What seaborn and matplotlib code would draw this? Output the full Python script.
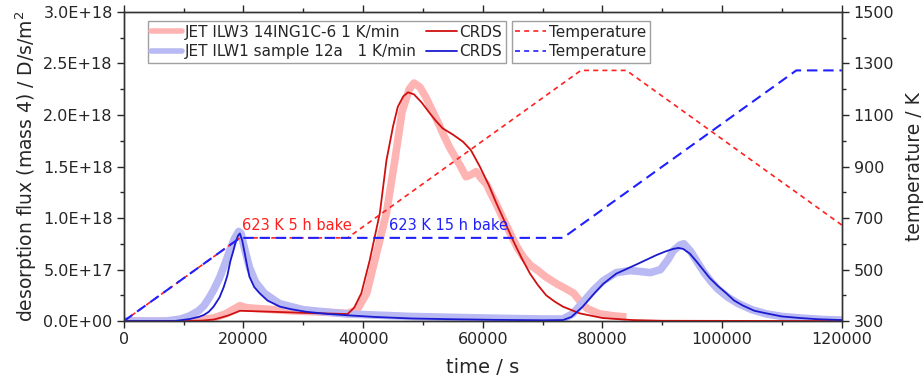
import numpy as np
import pandas as pd
import matplotlib
matplotlib.use("Agg")
import matplotlib.pyplot as plt
from matplotlib.ticker import MultipleLocator, FixedLocator, FuncFormatter
from matplotlib.lines import Line2D
import seaborn as sns

# ---------------- data ----------------
# JET ILW3 14ING1C-6, 1 K/min (measured, thick pink)
ilw3_t = [0, 8000, 12000, 15000, 17000, 18500, 19400, 20500, 24000, 28000, 32000, 36000, 37400,
          39000, 40600, 42000, 43900, 45300, 46500, 47700, 48500, 49500, 50500, 51500, 52500,
          53500, 54500, 55500, 56300, 57200, 58000, 58900, 59800, 60600, 61500, 62300, 63500,
          64600, 65700, 66800, 68000, 69000, 70500, 72400, 74000, 75200, 76700, 77500, 79500,
          82000, 84000]
ilw3_f = [0.0, 0.0, 0.01, 0.03, 0.07, 0.12, 0.15, 0.13, 0.115, 0.10, 0.09, 0.08, 0.075,
          0.11, 0.27, 0.60, 1.05, 1.56, 2.03, 2.25, 2.31, 2.27, 2.17, 2.05, 1.93,
          1.80, 1.68, 1.58, 1.50, 1.40, 1.42, 1.45, 1.38, 1.33, 1.22, 1.13, 0.98,
          0.85, 0.72, 0.62, 0.54, 0.50, 0.43, 0.36, 0.31, 0.27, 0.16, 0.12, 0.07,
          0.05, 0.04]

# JET ILW1 sample 12a, 1 K/min (measured, thick light blue)
ilw1_t = [0, 7000, 9500, 11000, 12500, 13400, 14200, 15000, 16000, 17000, 17800, 18500, 19200,
          19600, 20200, 21000, 22000, 23500, 26000, 30000, 37000, 48000, 60000, 70000, 73400,
          75000, 76700, 78500, 80100, 82300, 84600, 86500, 88000, 89700, 91000, 91800, 93000,
          93600, 94700, 96000, 97000, 98200, 99300, 101000, 102700, 105000, 107400, 110000,
          113000, 117000, 120000]
ilw1_f = [0.0, 0.0, 0.02, 0.05, 0.10, 0.15, 0.22, 0.30, 0.42, 0.57, 0.70, 0.80, 0.87,
          0.85, 0.70, 0.52, 0.38, 0.27, 0.17, 0.11, 0.07, 0.045, 0.03, 0.02, 0.02,
          0.07, 0.18, 0.30, 0.39, 0.47, 0.49, 0.48, 0.47, 0.50, 0.60, 0.68, 0.74,
          0.75, 0.68, 0.56, 0.47, 0.38, 0.31, 0.23, 0.17, 0.11, 0.07, 0.045,
          0.03, 0.015, 0.01]

# CRDS simulation for ILW3 (thin red)
crds3_t = [0, 10000, 13200, 15000, 16000, 17500, 18800, 19400, 20000, 25000, 30000, 35000, 37400,
           38500, 39700, 41100, 42800, 43900, 45000, 45800, 46700, 47500, 48500, 49800, 51100,
           52200, 53300, 55000, 56700, 58000, 59500, 61000, 62300, 63700, 65000, 66500, 67900,
           69200, 70600, 72000, 73400, 76200, 80000, 85000, 90000, 120000]
crds3_f = [0.0, 0.0, 0.005, 0.015, 0.03, 0.055, 0.085, 0.10, 0.099, 0.09, 0.08, 0.072, 0.068,
           0.13, 0.27, 0.59, 1.05, 1.56, 1.89, 2.08, 2.18, 2.22, 2.20, 2.12, 2.02,
           1.94, 1.87, 1.81, 1.74, 1.66, 1.50, 1.32, 1.14, 0.96, 0.79, 0.61, 0.46,
           0.35, 0.25, 0.19, 0.14, 0.075, 0.03, 0.01, 0.003, 0.0]

# CRDS simulation for ILW1 (thin blue)
crds1_t = [0, 8400, 11000, 12500, 13400, 14200, 15000, 16000, 16700, 17300, 17800, 18300, 18700,
           19100, 19400, 19800, 20200, 20600, 21000, 21800, 22700, 24000, 26100, 28000, 30500,
           34000, 37200, 42000, 48300, 55000, 62000, 70000, 73400, 74800, 76700, 78500, 80100,
           82300, 85700, 89000, 90500, 91800, 92700, 93500, 94600, 95700, 96800, 97900, 99300,
           100700, 102000, 103500, 105400, 107400, 110000, 113000, 116000, 120000]
crds1_f = [0.0, 0.0, 0.02, 0.04, 0.06, 0.09, 0.14, 0.23, 0.33, 0.44, 0.58, 0.68, 0.77,
           0.83, 0.85, 0.78, 0.66, 0.54, 0.43, 0.33, 0.27, 0.20, 0.14, 0.115, 0.09,
           0.07, 0.057, 0.04, 0.025, 0.018, 0.012, 0.008, 0.01, 0.04, 0.14, 0.26, 0.36,
           0.46, 0.55, 0.64, 0.675, 0.70, 0.71, 0.70, 0.655, 0.58, 0.50, 0.42, 0.34,
           0.27, 0.20, 0.15, 0.10, 0.075, 0.045, 0.03, 0.018, 0.01]

# Temperature programmes
temp3_t = [0, 19400, 37400, 76400, 84000, 120000]
temp3_T = [300, 623, 623, 1273, 1273, 673]
temp1_t = [0, 19400, 73400, 112400, 120000]
temp1_T = [300, 623, 623, 1273, 1273]

labels = {
    "ilw3": "JET ILW3 14ING1C-6 1 K/min",
    "ilw1": "JET ILW1 sample 12a   1 K/min",
    "crds": "CRDS",
    "temp": "Temperature",
}
x_ticks = [0, 20000, 40000, 60000, 80000, 100000, 120000]
t_ticks = [300, 500, 700, 900, 1100, 1300, 1500]

# ---------------- styling ----------------
sns.set_style("ticks")
plt.rcParams["font.family"] = ["DejaVu Sans"]
plt.rcParams["axes.linewidth"] = 1.0
plt.rcParams["axes.edgecolor"] = "#333333"

PINK = "#ffb4b4"
LBLUE = "#b9b9f3"
RED = "#d01010"
BLUE = "#1a1ad0"
TRED = "#ff2020"
TBLUE = "#2020ff"

fig = plt.figure(figsize=(9.24, 3.85), dpi=100)
ax = fig.add_axes([0.134, 0.166, 0.777, 0.803])
ax2 = ax.twinx()

def df(t, v, scale=1.0):
    return pd.DataFrame({"t": t, "v": np.asarray(v, dtype=float) * scale})

E18 = 1e18
sns.lineplot(data=df(ilw3_t, ilw3_f, E18), x="t", y="v", ax=ax, color=PINK, lw=5.5,
             solid_capstyle="butt", zorder=2)
sns.lineplot(data=df(ilw1_t, ilw1_f, E18), x="t", y="v", ax=ax, color=LBLUE, lw=5.5,
             solid_capstyle="butt", zorder=2)
sns.lineplot(data=df(crds3_t, crds3_f, E18), x="t", y="v", ax=ax, color=RED, lw=1.3, zorder=3)
sns.lineplot(data=df(crds1_t, crds1_f, E18), x="t", y="v", ax=ax, color=BLUE, lw=1.3, zorder=3)

sns.lineplot(data=df(temp3_t, temp3_T), x="t", y="v", ax=ax2, color=TRED, lw=1.2,
             linestyle=(0, (3, 2.5)))
sns.lineplot(data=df(temp1_t, temp1_T), x="t", y="v", ax=ax2, color=TBLUE, lw=1.5,
             linestyle=(0, (5, 2.8)))

# axes limits / ticks
ax.set_xlim(0, 120000)
ax.set_ylim(0, 3.0e18)
ax2.set_ylim(300, 1500)
ax.set_xticks(x_ticks)
ax.xaxis.set_minor_locator(MultipleLocator(10000))
ax.yaxis.set_major_locator(MultipleLocator(0.5e18))
ax.yaxis.set_minor_locator(MultipleLocator(0.25e18))
ax2.yaxis.set_major_locator(FixedLocator(t_ticks))
ax2.yaxis.set_minor_locator(FixedLocator([400, 600, 800, 1000, 1200, 1400]))

def sci(v, pos):
    if v == 0:
        return "0.0E+00"
    e = int(np.floor(np.log10(abs(v)) + 1e-9))
    m = v / 10 ** e
    return f"{m:.1f}E+{e:02d}"

ax.yaxis.set_major_formatter(FuncFormatter(sci))
ax.xaxis.set_major_formatter(FuncFormatter(lambda v, p: f"{int(v)}"))

ax.tick_params(axis="both", which="major", length=5, width=1, labelsize=11.5, direction="out",
               top=True, pad=3)
ax.tick_params(axis="both", which="minor", length=3, width=1, direction="out", top=True)
ax2.tick_params(axis="y", which="major", length=5, width=1, labelsize=11.5, direction="out")
ax2.tick_params(axis="y", which="minor", length=3, width=1, direction="out")

ax.set_xlabel("time / s", fontsize=14, labelpad=8)
ax.set_ylabel("desorption flux (mass 4) / D/s/m$^2$", fontsize=13.5, labelpad=3)
ax2.set_ylabel("temperature / K", fontsize=13.5, labelpad=8)

# annotations
ax.text(19700, 0.93e18, "623 K 5 h bake", color=TRED, fontsize=10.5, va="center", ha="left")
ax.text(44300, 0.93e18, "623 K 15 h bake", color=TBLUE, fontsize=10.5, va="center", ha="left")

# legends
h = [
    Line2D([], [], color=PINK, lw=4),
    Line2D([], [], color=LBLUE, lw=4),
    Line2D([], [], color=RED, lw=1.3),
    Line2D([], [], color=BLUE, lw=1.3),
]
lab = [labels["ilw3"], labels["ilw1"], labels["crds"], labels["crds"]]
leg1 = ax2.legend(h, lab, ncol=2, loc="upper left", bbox_to_anchor=(0.033, 0.971),
                  fontsize=11, frameon=True, fancybox=False, edgecolor="#888888",
                  handlelength=2.0, handletextpad=0.2, columnspacing=0.6,
                  borderpad=0.25, labelspacing=0.3, borderaxespad=0.0)
leg1.get_frame().set_linewidth(1.0)
ax2.add_artist(leg1)
h2 = [Line2D([], [], color=TRED, lw=1.2, linestyle=(0, (3, 2.5))),
      Line2D([], [], color=TBLUE, lw=1.2, linestyle=(0, (3, 2.5)))]
leg2 = ax2.legend(h2, [labels["temp"], labels["temp"]], loc="upper left",
                  bbox_to_anchor=(0.540, 0.971), fontsize=11, frameon=True, fancybox=False,
                  edgecolor="#888888", handlelength=2.0, handletextpad=0.2,
                  borderpad=0.25, labelspacing=0.3, borderaxespad=0.0)
leg2.get_frame().set_linewidth(1.0)

for a in (ax, ax2):
    for s in a.spines.values():
        s.set_visible(True)

fig.savefig("out.png", dpi=100)
